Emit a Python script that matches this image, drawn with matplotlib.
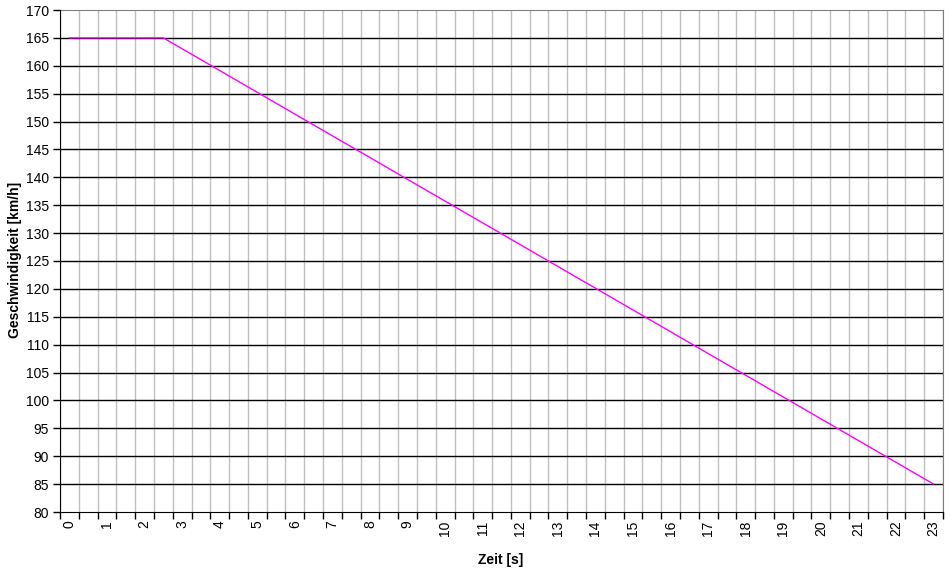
import numpy as np
import matplotlib.pyplot as plt
from matplotlib.ticker import FixedLocator

# Zeitpunkte und Geschwindigkeiten (Knickpunkte der Kurve)
zeit = [0, 2.5, 23]
geschwindigkeit = [165, 165, 85]

x_labels = [str(i) for i in range(24)]
y_ticks = list(range(80, 171, 5))

plt.rcParams['font.family'] = ['Liberation Sans', 'DejaVu Sans']
plt.rcParams['font.size'] = 10

fig = plt.figure(figsize=(9.53, 5.83), dpi=100)
W, H = 953, 583
ax = fig.add_axes([60 / W, 1 - 512 / H, (943 - 60) / W, (512 - 10) / H])

# Excel-artige Kategorieachse: Halbsekunden-Kategorien, Beschriftung jede Sekunde
ax.set_xlim(-0.25, 23.25)
ax.set_ylim(80, 170)

bounds = np.arange(-0.25, 23.26, 0.5)
ax.xaxis.set_major_locator(FixedLocator(range(24)))
ax.set_xticklabels(x_labels, rotation=90)
ax.xaxis.set_minor_locator(FixedLocator(bounds))
ax.tick_params(axis='x', which='major', length=0, pad=6)
ax.tick_params(axis='x', which='minor', length=5, width=1, color='black')
ax.set_yticks(y_ticks)
ax.tick_params(axis='y', length=5, width=1, pad=3)

# Gitterlinien
for b in bounds:
    ax.axvline(b, color='#c0c0c0', lw=1, zorder=1)
for y in y_ticks[1:-1]:
    ax.axhline(y, color='black', lw=1, zorder=1)

ax.plot(zeit, geschwindigkeit, color='#ff00ff', lw=1, zorder=3)

for side in ['top', 'right']:
    ax.spines[side].set_color('#808080')
for side in ['left', 'bottom']:
    ax.spines[side].set_color('black')
    ax.spines[side].set_zorder(4)

fig.text(501 / W, 1 - 560 / H, 'Zeit [s]', ha='center', va='center', fontweight='bold')
fig.text(15 / W, 1 - 260 / H, 'Geschwindigkeit [km/h]', ha='center', va='center',
         rotation=90, fontweight='bold')

fig.savefig('out.png', dpi=100)
